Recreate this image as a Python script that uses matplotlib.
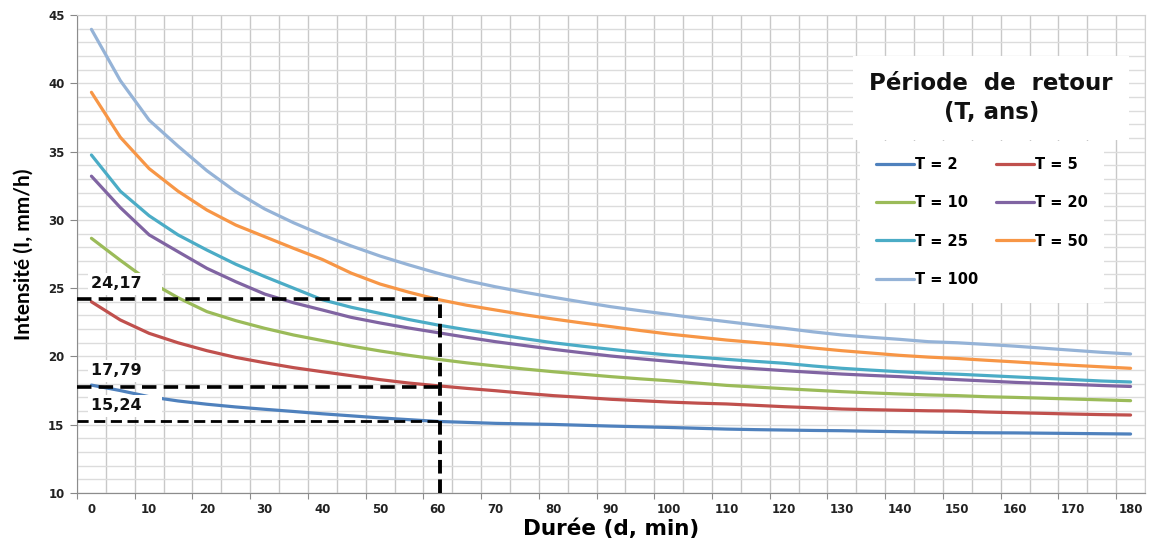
import matplotlib
matplotlib.use('Agg')
import numpy as np
import matplotlib.pyplot as plt
from matplotlib import font_manager

# durations (min) and intensities (mm/h)
duree = np.arange(0, 185, 5)

t2 = [17.9, 17.5, 17.05, 16.74, 16.5, 16.3, 16.13, 15.97, 15.8, 15.65, 15.5, 15.37, 15.24,
      15.17, 15.1, 15.06, 15.02, 14.96, 14.9, 14.85, 14.8, 14.74, 14.68, 14.64, 14.61, 14.58,
      14.56, 14.52, 14.49, 14.46, 14.43, 14.41, 14.4, 14.38, 14.36, 14.34, 14.32]
t5 = [24.0, 22.67, 21.69, 21.0, 20.42, 19.93, 19.54, 19.18, 18.88, 18.59, 18.3, 18.05, 17.85,
      17.66, 17.49, 17.3, 17.13, 17.0, 16.86, 16.76, 16.66, 16.58, 16.52, 16.42, 16.32, 16.24,
      16.15, 16.1, 16.06, 16.02, 16.0, 15.93, 15.88, 15.83, 15.78, 15.74, 15.71]
t10 = [28.65, 27.04, 25.5, 24.3, 23.28, 22.62, 22.06, 21.57, 21.16, 20.76, 20.4, 20.08, 19.79,
       19.53, 19.3, 19.08, 18.88, 18.7, 18.52, 18.36, 18.22, 18.05, 17.88, 17.76, 17.64, 17.53,
       17.42, 17.33, 17.25, 17.18, 17.13, 17.05, 17.0, 16.94, 16.88, 16.82, 16.76]
t20 = [33.2, 30.9, 28.9, 27.67, 26.45, 25.47, 24.57, 23.93, 23.4, 22.86, 22.45, 22.08, 21.74,
       21.4, 21.08, 20.8, 20.52, 20.27, 20.03, 19.83, 19.64, 19.44, 19.25, 19.1, 18.96, 18.83,
       18.71, 18.61, 18.52, 18.4, 18.3, 18.2, 18.1, 18.02, 17.95, 17.87, 17.8]
t25 = [34.75, 32.1, 30.3, 28.9, 27.79, 26.75, 25.85, 25.0, 24.15, 23.6, 23.15, 22.7, 22.3,
       21.95, 21.62, 21.3, 21.0, 20.75, 20.52, 20.3, 20.1, 19.95, 19.79, 19.64, 19.5, 19.3,
       19.13, 19.0, 18.88, 18.78, 18.7, 18.6, 18.5, 18.4, 18.3, 18.2, 18.13]
t50 = [39.34, 36.05, 33.75, 32.1, 30.72, 29.62, 28.77, 27.92, 27.1, 26.1, 25.3, 24.7, 24.17,
       23.75, 23.4, 23.05, 22.74, 22.45, 22.18, 21.9, 21.64, 21.42, 21.2, 21.02, 20.84, 20.62,
       20.42, 20.25, 20.08, 19.95, 19.85, 19.72, 19.6, 19.47, 19.35, 19.24, 19.13]
t100 = [43.95, 40.2, 37.3, 35.4, 33.6, 32.06, 30.8, 29.79, 28.89, 28.09, 27.35, 26.7, 26.09,
        25.55, 25.1, 24.7, 24.33, 23.98, 23.64, 23.35, 23.08, 22.8, 22.55, 22.3, 22.06, 21.8,
        21.57, 21.4, 21.25, 21.08, 21.0, 20.88, 20.75, 20.6, 20.45, 20.3, 20.18]

series = [t2, t5, t10, t20, t25, t50, t100]
labels = ['T = 2', 'T = 5', 'T = 10', 'T = 20', 'T = 25', 'T = 50', 'T = 100']
colors = ['#4F81BD', '#C0504D', '#9BBB59', '#8064A2', '#4BACC6', '#F79646', '#95B3D7']

# values read at d = 60 min
d_ref = 60
i_ref = [24.17, 17.79, 15.24]
i_ref_txt = ['24,17', '17,79', '15,24']

plt.rcParams['font.family'] = 'DejaVu Sans'

installed = {f.name for f in font_manager.fontManager.ttflist}
narrow = 'Liberation Sans Narrow' if 'Liberation Sans Narrow' in installed else 'Lato'

fig = plt.figure(figsize=(11.65, 5.39), dpi=100)
ax = fig.add_axes([77 / 1165, 1 - 493 / 539, 1068 / 1165, 478 / 539])

lines = []
for y, lab, c in zip(series, labels, colors):
    ln, = ax.plot(duree, y, color=c, lw=2.3, label=lab, zorder=3, solid_capstyle='round')
    lines.append(ln)

ax.set_xlim(-2.5, 182.5)
ax.set_ylim(10, 45)

ax.set_xticks(np.arange(0, 181, 10))
ax.set_xticks(np.arange(-2.5, 183, 5), minor=True)
ax.set_yticks(np.arange(10, 46, 5))
ax.set_yticks(np.arange(10, 46, 1), minor=True)
ax.tick_params(axis='x', which='both', length=0, pad=7)
ax.tick_params(axis='y', which='major', length=5, color='#888888', pad=4)
ax.tick_params(axis='y', which='minor', length=0)
for lab in ax.get_xticklabels() + ax.get_yticklabels():
    lab.set_fontweight('bold')
    lab.set_fontsize(8.5)
    lab.set_color('#222222')

ax.grid(which='minor', axis='x', color='#C8C8C8', lw=1.0)
ax.grid(which='both', axis='y', color='#DCDCDC', lw=1.0)
ax.set_axisbelow(True)

for s in ['left', 'bottom']:
    ax.spines[s].set_color('#8C8C8C')
for s in ['top', 'right']:
    ax.spines[s].set_color('#D0D0D0')

# tick marks between category labels
sec = ax.secondary_xaxis('bottom')
sec.set_xticks(np.arange(-2.5, 183, 10))
sec.tick_params(length=4, color='#8C8C8C', labelbottom=False)
sec.spines['bottom'].set_color('#8C8C8C')

# reading lines at d = 60
x0 = ax.get_xlim()[0]
widths = [2.6, 2.6, 2.0]
for v, w in zip(i_ref, widths):
    ax.hlines(v, x0, d_ref, colors='black', lw=w, linestyles=(0, (4, 2)), zorder=6)
ax.vlines(d_ref + 0.4, 10, i_ref[0], colors='black', lw=2.8, linestyles=(0, (3.5, 1.5)), zorder=6)

for v, txt in zip(i_ref, i_ref_txt):
    ax.annotate(txt + '   ', xy=(0, v), xytext=(0, 6), textcoords='offset points',
                ha='left', va='bottom', fontsize=11.5, fontweight='bold', color='#111111',
                bbox=dict(facecolor='white', edgecolor='none', pad=2.5), zorder=5)

ax.text(0.856, 0.826, 'Période  de  retour\n(T, ans)', transform=ax.transAxes,
        ha='center', va='center', fontsize=16.5, fontweight='bold', linespacing=1.3,
        color='#111111', zorder=7,
        bbox=dict(facecolor='white', edgecolor='none', boxstyle='square,pad=0.7'))

order = [0, 2, 4, 6, 1, 3, 5]
leg = ax.legend([lines[i] for i in order], [labels[i] for i in order],
                loc='upper left', bbox_to_anchor=(0.726, 0.752), ncol=2,
                frameon=True, fancybox=False, framealpha=1, edgecolor='none',
                facecolor='white', handlelength=2.6, handletextpad=0.1,
                columnspacing=1.2, labelspacing=1.6, borderpad=1.1,
                prop={'weight': 'bold', 'size': 10.5})
leg.set_zorder(7)

ax.set_xlabel('Durée (d, min)', fontsize=15.5, fontweight='bold', labelpad=2)
ax.set_ylabel('Intensité (I, mm/h)', fontsize=15, fontweight='bold',
              family=[narrow, 'DejaVu Sans'], labelpad=10)

fig.savefig('out.png', dpi=100)
